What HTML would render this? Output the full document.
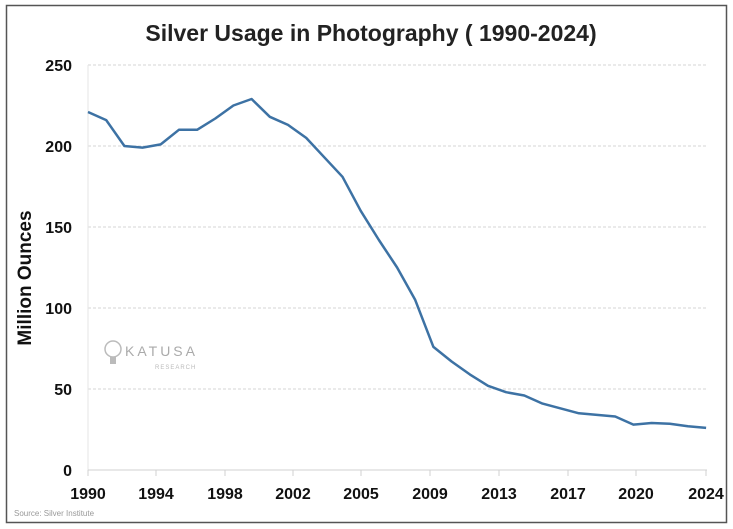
<!DOCTYPE html>
<html><head><meta charset="utf-8"><style>
html,body{margin:0;padding:0;background:#fff;}
svg{display:block;font-family:"Liberation Sans",Arial,sans-serif;}
</style></head><body>
<svg width="733" height="529" viewBox="0 0 733 529">
<rect x="0" y="0" width="733" height="529" fill="#fff"/>
<rect x="6.5" y="5.5" width="720" height="517" fill="none" stroke="#555" stroke-width="1.5"/>
<text x="371" y="41" text-anchor="middle" font-size="23" font-weight="bold" fill="#222">Silver Usage in Photography ( 1990-2024)</text>
<g stroke="#d6d6d6" stroke-width="1" stroke-dasharray="3,2">
<line x1="88" y1="65" x2="707" y2="65"/>
<line x1="88" y1="146" x2="707" y2="146"/>
<line x1="88" y1="227" x2="707" y2="227"/>
<line x1="88" y1="308" x2="707" y2="308"/>
<line x1="88" y1="389" x2="707" y2="389"/>
</g>
<line x1="88" y1="65" x2="88" y2="470" stroke="#e6e6e6"/>
<line x1="88" y1="470" x2="707" y2="470" stroke="#d0d0d0"/>
<g stroke="#d0d0d0">
<line x1="88" y1="470" x2="88" y2="476"/><line x1="156" y1="470" x2="156" y2="476"/>
<line x1="225" y1="470" x2="225" y2="476"/><line x1="293" y1="470" x2="293" y2="476"/>
<line x1="361" y1="470" x2="361" y2="476"/><line x1="430" y1="470" x2="430" y2="476"/>
<line x1="499" y1="470" x2="499" y2="476"/><line x1="568" y1="470" x2="568" y2="476"/>
<line x1="636" y1="470" x2="636" y2="476"/><line x1="706" y1="470" x2="706" y2="476"/>
</g>
<g font-size="16" font-weight="bold" fill="#111" text-anchor="end">
<text x="72" y="71">250</text><text x="72" y="152">200</text><text x="72" y="233">150</text>
<text x="72" y="314">100</text><text x="72" y="395">50</text><text x="72" y="476">0</text>
</g>
<g font-size="16" font-weight="bold" fill="#111" text-anchor="middle">
<text x="88" y="499">1990</text><text x="156" y="499">1994</text><text x="225" y="499">1998</text>
<text x="293" y="499">2002</text><text x="361" y="499">2005</text><text x="430" y="499">2009</text>
<text x="499" y="499">2013</text><text x="568" y="499">2017</text><text x="636" y="499">2020</text>
<text x="706" y="499">2024</text>
</g>
<text transform="translate(31,278) rotate(-90)" text-anchor="middle" font-size="19" font-weight="bold" fill="#111">Million Ounces</text>
<text x="14" y="516" font-size="8" fill="#999">Source: Silver Institute</text>
<g fill="#aaa">
<circle cx="113" cy="349" r="8" fill="none" stroke="#bbb" stroke-width="1.5"/>
<rect x="110" y="357" width="6" height="7" fill="#bbb"/>
<text x="125" y="356" font-size="14" letter-spacing="3" fill="#aaa">KATUSA</text>
<text x="155" y="369" font-size="6" letter-spacing="1" fill="#bbb">RESEARCH</text>
</g>
<polyline fill="none" stroke="#3d72a4" stroke-width="2.5" stroke-linejoin="round"
points="88,112 106.2,120.1 124.4,146 142.5,147.6 160.7,144.4 178.9,129.8 197.1,129.8 215.3,118.5 233.4,105.5 251.6,99 269.8,116.8 288,124.9 306.2,137.9 324.3,157.3 342.5,176.8 360.7,210.8 378.9,240 397.1,267.5 415.2,299.9 433.4,346.9 451.6,361.5 469.8,374.4 488,385.8 506.1,392.2 524.3,395.5 542.5,403.6 560.7,408.4 578.9,413.3 597,414.9 615.2,416.5 633.4,424.6 651.6,423 669.8,423.8 687.9,426.3 706.1,427.9"/>
</svg>
</body></html>
